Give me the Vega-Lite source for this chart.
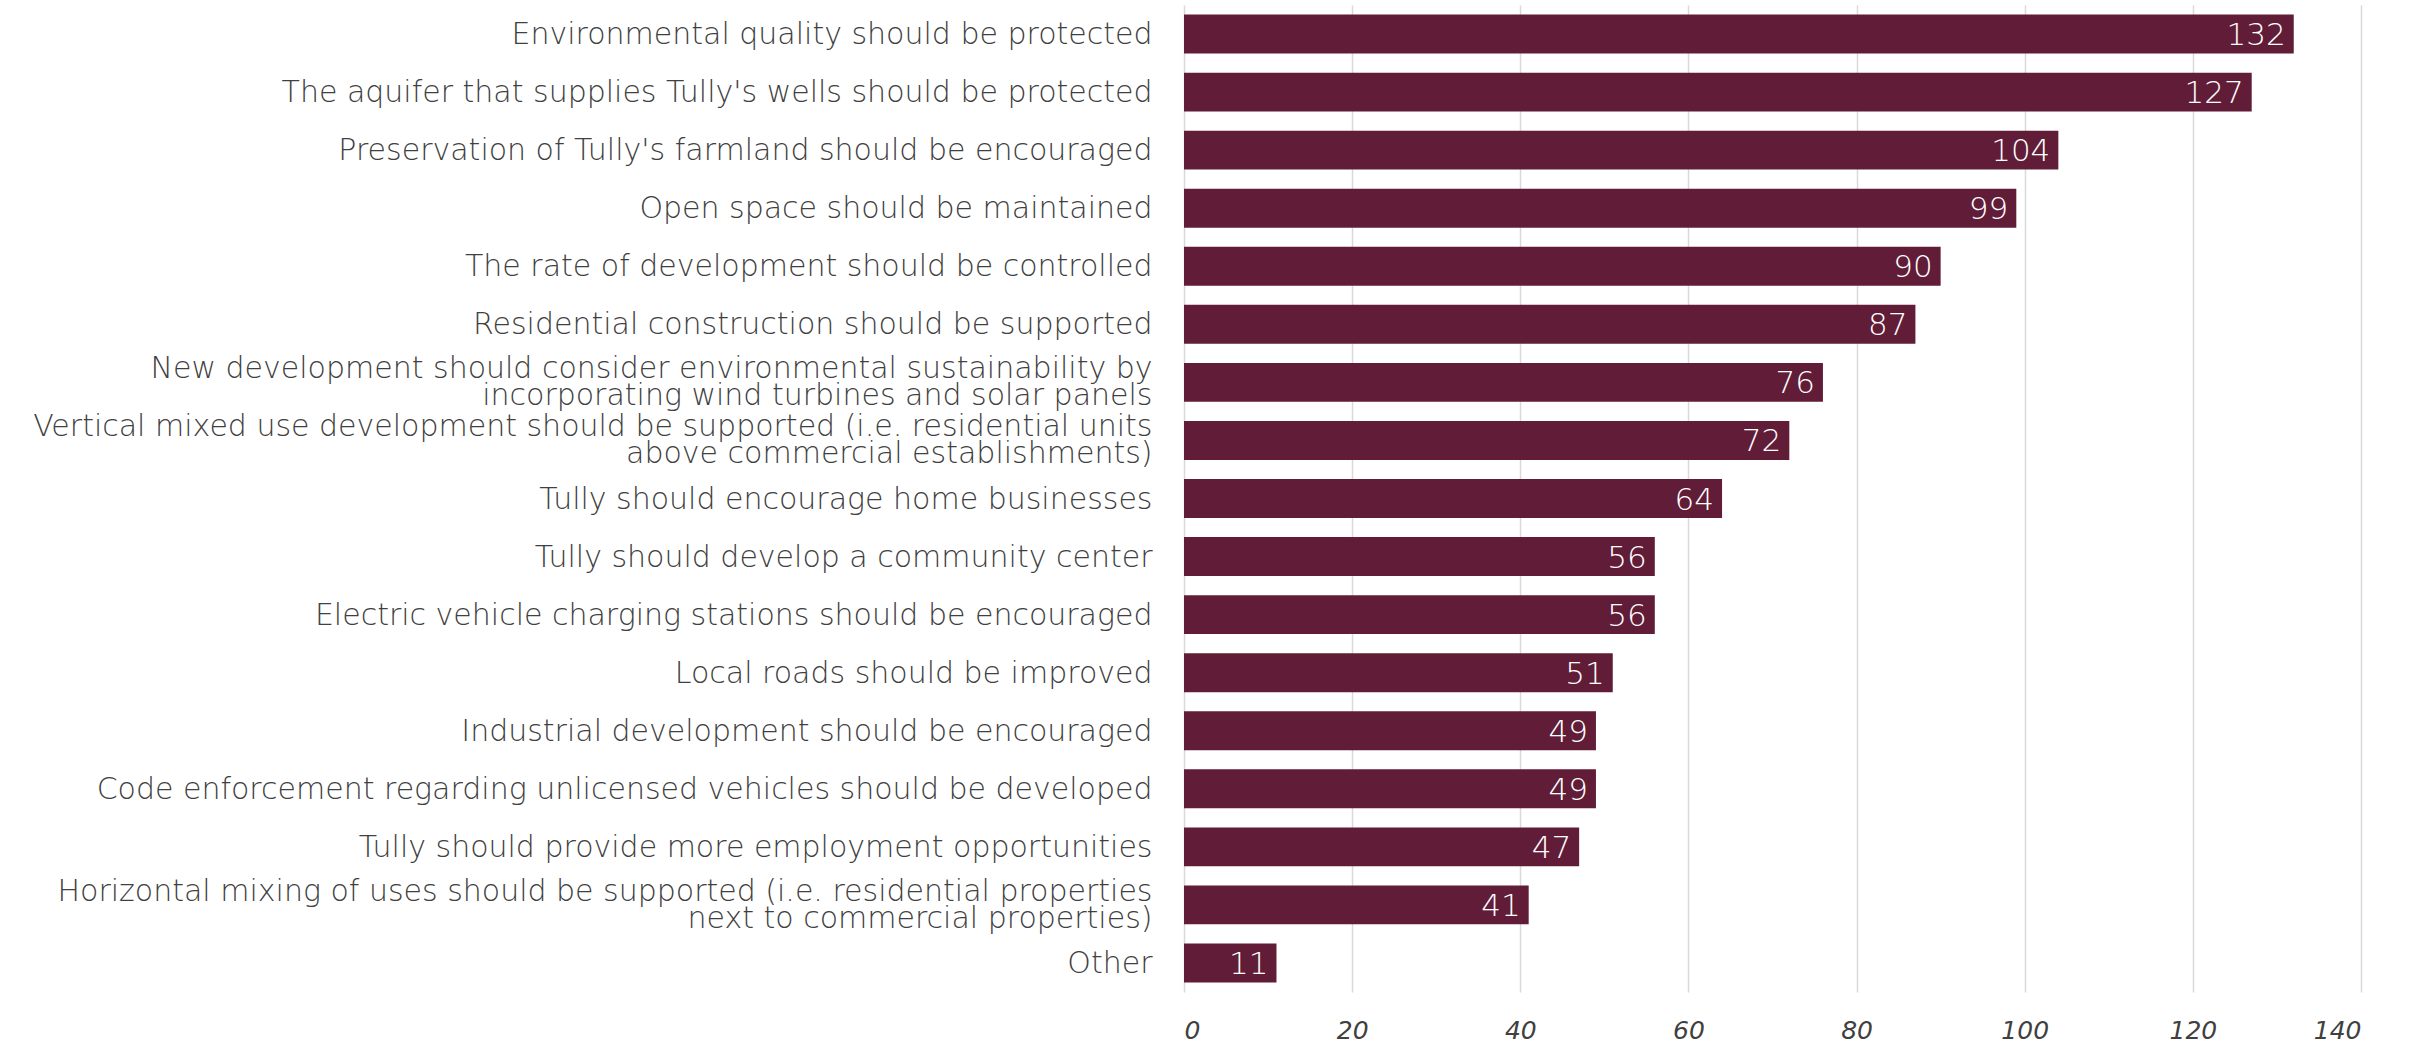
{
  "$schema": "https://vega.github.io/schema/vega-lite/v6.json",
  "autosize": "none",
  "width": 1177,
  "height": 987,
  "padding": {"left": 1184, "top": 5, "right": 54, "bottom": 51},
  "background": "white",
  "config": {"view": {"stroke": null}, "font": "DejaVu Sans"},
  "data": {"values": [
    {"label": "Environmental quality should be protected", "count": 132},
    {"label": "The aquifer that supplies Tully's wells should be protected", "count": 127},
    {"label": "Preservation of Tully's farmland should be encouraged", "count": 104},
    {"label": "Open space should be maintained", "count": 99},
    {"label": "The rate of development should be controlled", "count": 90},
    {"label": "Residential construction should be supported", "count": 87},
    {"label": "New development should consider environmental sustainability by\nincorporating wind turbines and solar panels", "count": 76},
    {"label": "Vertical mixed use development should be supported (i.e. residential units\nabove commercial establishments)", "count": 72},
    {"label": "Tully should encourage home businesses", "count": 64},
    {"label": "Tully should develop a community center", "count": 56},
    {"label": "Electric vehicle charging stations should be encouraged", "count": 56},
    {"label": "Local roads should be improved", "count": 51},
    {"label": "Industrial development should be encouraged", "count": 49},
    {"label": "Code enforcement regarding unlicensed vehicles should be developed", "count": 49},
    {"label": "Tully should provide more employment opportunities", "count": 47},
    {"label": "Horizontal mixing of uses should be supported (i.e. residential properties\nnext to commercial properties)", "count": 41},
    {"label": "Other", "count": 11}
  ]},
  "encoding": {
    "y": {
      "field": "label", "type": "nominal", "sort": null,
      "scale": {"paddingInner": 0.33, "paddingOuter": 0.165},
      "axis": {
        "title": null, "domain": false, "ticks": false,
        "labelExpr": "split(datum.value, '\\n')",
        "labelFontSize": 30, "labelFontWeight": 300, "labelColor": "#404040", "labelPadding": 32,
        "labelLimit": 1200, "labelLineHeight": 27, "labelAlign": "right",
        "labelOffset": {"expr": "indexof(datum.value, '\\n') >= 0 ? -13 : 1"}
      }
    },
    "x": {
      "field": "count", "type": "quantitative",
      "scale": {"domain": [0, 140], "nice": false},
      "axis": {
        "title": null, "domain": false, "ticks": false, "values": [0, 20, 40, 60, 80, 100, 120, 140],
        "grid": true, "gridColor": "#d9d9d9", "gridWidth": 1.5,
        "labelFontSize": 25, "labelFontWeight": 300, "labelFontStyle": "italic", "labelColor": "#404040", "labelPadding": 26
      }
    }
  },
  "layer": [
    {"mark": {"type": "bar", "color": "#611d37"}},
    {"mark": {"type": "text", "align": "right", "baseline": "middle", "dx": -8, "dy": 2, "color": "white", "fontSize": 31, "fontWeight": 300},
     "encoding": {"text": {"field": "count", "type": "quantitative"}}}
  ]
}
